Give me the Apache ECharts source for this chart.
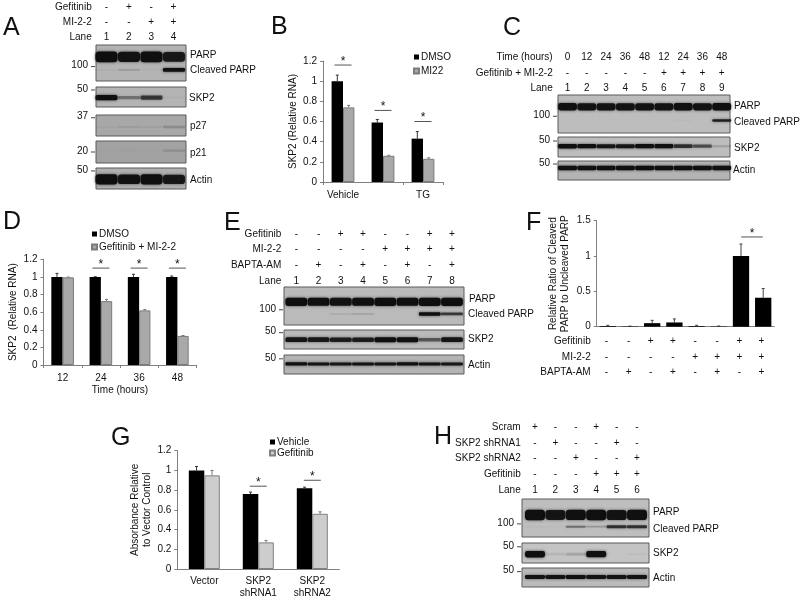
<!DOCTYPE html>
<html><head><meta charset="utf-8">
<style>html,body{margin:0;padding:0;background:#fff}#c{width:800px;height:599px;filter:blur(0.45px)}</style>
<script src="https://cdn.jsdelivr.net/npm/echarts@6/dist/echarts.min.js"></script>
</head><body><div id="c"></div>
<script>
// ---------- bar chart values ----------
const bCats=['Vehicle','Gefitinib','TG'];
const bDmso=[1,0.59,0.43], bDmsoErr=[0.06,0.03,0.07];
const bMi22=[0.74,0.26,0.23], bMi22Err=[0.02,0.005,0.01];
const bSig=[1.16,0.71,0.6];

const dCats=['12','24','36','48'];
const dDmso=[1,1,1,1], dDmsoErr=[0.04,0.002,0.03,0.01];
const dCombo=[0.995,0.725,0.62,0.33], dComboErr=[0.003,0.02,0.01,0.005];
const dSig=[null,1.1,1.1,1.1];

const fCats=['1','2','3','4','5','6','7','8'];
const fValues=[0.01,0.005,0.05,0.06,0.01,0.005,1,0.41];
const fErr=[0.01,0.003,0.04,0.05,0.01,0.005,0.17,0.13];
const fSig=[null,null,null,null,null,null,1.27,null];

const gCats=['Vector','SKP2\nshRNA1','SKP2\nshRNA2'];
const gVehicle=[1,0.76,0.82], gVehicleErr=[0.04,0.02,0.01];
const gGefitinib=[0.95,0.27,0.56], gGefitinibErr=[0.05,0.02,0.02];
const gSig=[null,0.84,0.9];

// ---------- treatment rows ----------
const aGef=['-','+','-','+'], aMi=['-','-','+','+'], aLane=['1','2','3','4'];
const cTime=['0','12','24','36','48','12','24','36','48'], cCombo=['-','-','-','-','-','+','+','+','+'], cLane=['1','2','3','4','5','6','7','8','9'];
const eGef=['-','-','+','+','-','-','+','+'], eMi=['-','-','-','-','+','+','+','+'], eBapta=['-','+','-','+','-','+','-','+'], eLane=['1','2','3','4','5','6','7','8'];
const hScram=['+','-','-','+','-','-'], hSh1=['-','+','-','-','+','-'], hSh2=['-','-','+','-','-','+'], hGef=['-','-','-','+','+','+'], hLane=['1','2','3','4','5','6'];

// ---------- western blot band intensities (0..1) ----------
const aParp=[1,0.92,1,0.88], aCleaved=[0.06,0.18,0.05,0.95], aSkp2=[1,0.4,0.7,0.04], aP27=[0.05,0.1,0.08,0.2], aP21=[0.02,0.03,0.02,0.15], aActin=[1,0.92,1,0.88];
const cParp=[0.95,0.92,0.92,0.92,0.92,0.92,0.95,0.92,0.97], cCleaved=[0,0,0,0,0,0,0.03,0,0.85], cSkp2=[1,0.95,0.9,0.9,0.95,0.95,0.75,0.6,0.2], cActin=[0.95,0.95,0.95,0.95,0.97,0.95,0.95,0.95,0.95];
const eParp=[0.97,0.95,0.92,0.95,0.97,0.95,0.97,0.97], eCleaved=[0,0,0.12,0.18,0,0,1,0.7], eSkp2=[0.9,0.88,0.85,0.85,1,0.95,0.55,0.9], eActin=[0.95,0.92,0.9,0.92,0.92,0.95,0.92,0.9];
const hParp=[1,0.9,0.95,1,0.92,0.95], hCleaved=[0.04,0.02,0.45,0.25,0.75,0.75], hSkp2=[1,0.1,0.18,0.95,0.01,0.04], hActin=[0.92,0.92,0.95,0.92,0.92,0.92];

const FF='"Liberation Sans", Arial, sans-serif', TXT='#111', AX='#808080';
const option={animation:false,grid:[],xAxis:[],yAxis:[],series:[],legend:[],graphic:[]};

function addGrid(g,x,y){
  const i=option.grid.length;
  option.grid.push(g);
  option.xAxis.push(Object.assign({gridIndex:i},x));
  option.yAxis.push(Object.assign({gridIndex:i},y));
  return i;
}
function hiddenValue(min,max,inverse){
  return {type:'value',min,max,inverse:!!inverse,show:false,axisLine:{show:false},axisTick:{show:false},axisLabel:{show:false},splitLine:{show:false}};
}
function laneScale(left,right,x1,xn,n){
  const s=(xn-x1)/(n-1);
  return {min:1-(x1-left)/s,max:n+(right-xn)/s};
}
function txt(text,x,y,align,size,fill){
  return {type:'text',style:{text,x,y,fill:fill||TXT,fontSize:size||10,fontFamily:FF,align:align||'left',verticalAlign:'middle'}};
}

// Treatment table: row names are the category axis, marks are placed by the lane scale.
function addHeader(names,rows,labelRight,y1,pitch,x1,xn){
  const n=rows[0].length,left=labelRight+3,right=xn+14;
  const sc=laneScale(left,right,x1,xn,n);
  const i=addGrid({left,width:right-left,top:y1-pitch/2,height:pitch*rows.length,show:false},
    hiddenValue(sc.min,sc.max),
    {type:'category',data:names,inverse:true,axisLine:{show:false},axisTick:{show:false},splitLine:{show:false},
     axisLabel:{margin:3,fontSize:10,fontFamily:FF,color:TXT}});
  const data=[];
  rows.forEach((r,ri)=>r.forEach((_,li)=>data.push([li+1,ri])));
  option.series.push({type:'custom',coordinateSystem:'cartesian2d',xAxisIndex:i,yAxisIndex:i,silent:true,data,encode:{x:0,y:1},
    renderItem:(p,api)=>{
      const c=api.coord([api.value(0),api.value(1)]);
      return txt(rows[api.value(1)][api.value(0)-1],c[0],c[1],'center',10);
    }});
}

// One membrane strip: bands, kDa markers and protein names.
function addBlot(box,lane,bg,bands,markers,names){
  const n=bands[0].values.length,sc=laneScale(box.left,box.right,lane.x1,lane.xn,n);
  const i=addGrid({left:box.left,width:box.right-box.left,top:box.top,height:box.bottom-box.top,show:true,
      backgroundColor:bg,borderColor:'#5a5a5a',borderWidth:1},
    hiddenValue(sc.min,sc.max),hiddenValue(0,1,true));
  const data=[];
  bands.forEach(b=>b.values.forEach((v,li)=>{ if(v>0) data.push([li+1,b.mig,b.th,v]); }));
  option.series.push({type:'custom',coordinateSystem:'cartesian2d',xAxisIndex:i,yAxisIndex:i,silent:true,data,encode:{x:0,y:1},
    renderItem:(p,api)=>{
      const v=api.value(3),c=api.coord([api.value(0),api.value(1)]),sz=api.size([1,api.value(2)]);
      const h=Math.max(1.5,sz[1]*(0.35+0.65*v)),w=sz[0]*0.98;
      return {type:'rect',shape:{x:c[0]-w/2,y:c[1]-h/2,width:w,height:h,r:h/3},
        style:{fill:'rgba(15,15,15,'+Math.min(1,Math.pow(v,1.15)*1.05)+')',shadowBlur:3,shadowColor:'rgba(15,15,15,'+(v*0.7)+')'}};
    }});
  option.series.push({type:'custom',coordinateSystem:'cartesian2d',xAxisIndex:i,yAxisIndex:i,silent:true,clip:false,
    data:markers.map((m,k)=>[sc.min,m.pos,k]),encode:{x:0,y:1},
    renderItem:(p,api)=>{
      const m=markers[api.value(2)],c=api.coord([api.value(0),api.value(1)]);
      return {type:'group',children:[
        {type:'line',shape:{x1:c[0]-5,y1:c[1],x2:c[0]-1,y2:c[1]},style:{stroke:'#444',lineWidth:1}},
        txt(m.text,c[0]-8,c[1]-1,'right',10)]};
    }});
  option.series.push({type:'custom',coordinateSystem:'cartesian2d',xAxisIndex:i,yAxisIndex:i,silent:true,clip:false,
    data:names.map((m,k)=>[sc.max,m.pos,k]),encode:{x:0,y:1},
    renderItem:(p,api)=>{
      const m=names[api.value(2)],c=api.coord([api.value(0),api.value(1)]);
      return txt(m.text,c[0]+(m.dx==null?4:m.dx),c[1],'left',10);
    }});
}

// Bar panel: axis, two (or one) bar series, upper error bars and significance brackets.
function addBars(o){
  const i=addGrid({left:o.left,width:o.width,top:o.top,height:o.height,show:false},
    Object.assign({type:'category',data:o.cats,axisLine:{lineStyle:{color:AX}},
      axisTick:{show:o.xTicks!==false,length:3,lineStyle:{color:AX}},
      axisLabel:{show:o.xLabels!==false,fontSize:10,fontFamily:FF,color:TXT,margin:o.xMargin||7,lineHeight:12},
      splitLine:{show:false}},o.xName?{name:o.xName,nameLocation:'middle',nameGap:20,nameTextStyle:{fontSize:10,fontFamily:FF,color:TXT}}:{}),
    {type:'value',min:0,max:o.max,interval:o.interval,name:o.yName,nameLocation:'middle',nameRotate:90,nameGap:o.yGap,
     nameTextStyle:{fontSize:10,fontFamily:FF,color:TXT,lineHeight:o.yLine||12},
     axisLine:{show:true,lineStyle:{color:AX}},axisTick:{show:true,length:3,lineStyle:{color:AX}},
     axisLabel:{fontSize:10,fontFamily:FF,color:TXT,margin:6},splitLine:{show:false}});
  const bw=o.barWidth,m=o.bars.length;
  o.bars.forEach((b,k)=>{
    option.series.push({type:'bar',name:b.name,xAxisIndex:i,yAxisIndex:i,data:b.values,barWidth:bw,barGap:0,silent:true,
      itemStyle:{color:b.color,borderColor:b.border,borderWidth:b.border?1:0}});
    const off=m===1?0:(k-0.5)*bw;
    option.series.push({type:'custom',coordinateSystem:'cartesian2d',xAxisIndex:i,yAxisIndex:i,silent:true,z:1,
      data:b.values.map((v,j)=>[j,v,v+b.err[j]]),encode:{x:0,y:1},
      renderItem:(p,api)=>{
        const t=api.coord([api.value(0),api.value(2)]),c=api.coord([api.value(0),api.value(1)]),x=t[0]+off;
        return {type:'group',children:[
          {type:'line',shape:{x1:x,y1:c[1],x2:x,y2:t[1]},style:{stroke:b.errColor,lineWidth:1}},
          {type:'line',shape:{x1:x-1.5,y1:t[1],x2:x+1.5,y2:t[1]},style:{stroke:b.errColor,lineWidth:1}}]};
      }});
  });
  const sd=[];
  o.sig.forEach((v,j)=>{ if(v!=null) sd.push([j,v]); });
  option.series.push({type:'custom',coordinateSystem:'cartesian2d',xAxisIndex:i,yAxisIndex:i,silent:true,clip:false,data:sd,encode:{x:0,y:1},
    renderItem:(p,api)=>{
      const c=api.coord([api.value(0),api.value(1)]),x=c[0]+(o.sigShift||0),hw=o.sigHalf||8.5;
      return {type:'group',children:[
        {type:'line',shape:{x1:x-hw,y1:c[1],x2:x+hw,y2:c[1]},style:{stroke:'#555',lineWidth:1}},
        txt('*',x,c[1]-3.5,'center',12,'#111')]};
    }});
  if(o.legend) option.legend.push({show:true,data:o.bars.map(b=>b.name),orient:'vertical',left:o.legend.left,top:o.legend.top,padding:0,
    itemWidth:5,itemHeight:5,itemGap:o.legend.gap,icon:'rect',selectedMode:false,textStyle:{fontSize:10,fontFamily:FF,color:TXT,padding:[0,0,0,-3]}});
}

// ---- A ----
addHeader(['Gefitinib','MI-2-2','Lane'],[aGef,aMi,aLane],91.7,6.3,15.4,106.5,173.5);
const laneA={x1:106.5,xn:174};
addBlot({left:96,right:186,top:45,bottom:81},laneA,'#b4b4b4',[{mig:.33,th:.3,values:aParp},{mig:.69,th:.11,values:aCleaved}],[{text:'100',pos:.6}],[{text:'PARP',pos:.28},{text:'Cleaved PARP',pos:.69}]);
addBlot({left:96,right:186,top:87,bottom:107},laneA,'#b4b4b4',[{mig:.53,th:.26,values:aSkp2}],[{text:'50',pos:.15}],[{text:'SKP2',pos:.55,dx:3}]);
addBlot({left:96,right:186,top:115,bottom:136},laneA,'#a8a8a8',[{mig:.57,th:.24,values:aP27}],[{text:'37',pos:.13}],[{text:'p27',pos:.52}]);
addBlot({left:96,right:186,top:141,bottom:163},laneA,'#a2a2a2',[{mig:.44,th:.27,values:aP21}],[{text:'20',pos:.5}],[{text:'p21',pos:.55}]);
addBlot({left:96,right:186,top:168,bottom:189},laneA,'#b0b0b0',[{mig:.54,th:.48,values:aActin}],[{text:'50',pos:.14}],[{text:'Actin',pos:.56}]);

// ---- B ----
addBars({left:323,width:120,top:61,height:121,cats:bCats,max:1.2,interval:0.2,barWidth:11.4,yName:'SKP2 (Relative RNA)',yGap:21,sig:bSig,
  bars:[{name:'DMSO',values:bDmso,err:bDmsoErr,color:'#000',errColor:'#333'},{name:'MI22',values:bMi22,err:bMi22Err,color:'#a9a9a9',border:'#7b7b7b',errColor:'#777'}],
  legend:{left:413,top:52,gap:4}});

// ---- C ----
addHeader(['Time (hours)','Gefitinib + MI-2-2','Lane'],[cTime,cCombo,cLane],552.7,57,15.8,567.5,721.7);
const laneC={x1:567.5,xn:721.7};
addBlot({left:558,right:730,top:95,bottom:133},laneC,'#bdbdbd',[{mig:.31,th:.2,values:cParp},{mig:.67,th:.07,values:cCleaved}],[{text:'100',pos:.56}],[{text:'PARP',pos:.29},{text:'Cleaved PARP',pos:.71}]);
addBlot({left:558,right:730,top:137,bottom:157},laneC,'#bdbdbd',[{mig:.46,th:.22,values:cSkp2}],[{text:'50',pos:.2}],[{text:'SKP2',pos:.55}]);
addBlot({left:558,right:730,top:161,bottom:180},laneC,'#b4b4b4',[{mig:.37,th:.24,values:cActin}],[{text:'50',pos:.16}],[{text:'Actin',pos:.47,dx:3}]);

// ---- D ----
addBars({left:43.5,width:153,top:259.3,height:105.7,cats:dCats,max:1.2,interval:0.2,barWidth:11.3,yName:'SKP2  (Relative RNA)',yGap:22,sig:dSig,xName:'Time (hours)',
  bars:[{name:'DMSO',values:dDmso,err:dDmsoErr,color:'#000',errColor:'#333'},{name:'Gefitinib + MI-2-2',values:dCombo,err:dComboErr,color:'#a9a9a9',border:'#7b7b7b',errColor:'#777'}],
  legend:{left:91,top:229,gap:3}});

// ---- E ----
addHeader(['Gefitinib','MI-2-2','BAPTA-AM','Lane'],[eGef,eMi,eBapta,eLane],281.3,234,15.6,296.3,452);
const laneE={x1:296.3,xn:452};
addBlot({left:284,right:464,top:287,bottom:325},laneE,'#bababa',[{mig:.39,th:.22,values:eParp},{mig:.71,th:.09,values:eCleaved}],[{text:'100',pos:.6}],[{text:'PARP',pos:.31,dx:5},{text:'Cleaved PARP',pos:.71}]);
addBlot({left:284,right:464,top:330,bottom:349},laneE,'#bababa',[{mig:.51,th:.27,values:eSkp2}],[{text:'50',pos:.14}],[{text:'SKP2',pos:.51}]);
addBlot({left:284,right:464,top:355,bottom:374},laneE,'#b4b4b4',[{mig:.47,th:.17,values:eActin}],[{text:'50',pos:.2}],[{text:'Actin',pos:.53}]);

// ---- F ----
addBars({left:596.7,width:177.6,top:220.7,height:106,cats:fCats,max:1.5,interval:0.5,barWidth:16.3,yName:'Relative Ratio of Cleaved\nPARP to Uncleaved PARP',yGap:25,xLabels:false,xTicks:false,sig:fSig,sigShift:11,sigHalf:10.8,
  bars:[{name:'Ratio',values:fValues,err:fErr,color:'#000',errColor:'#444'}]});
addHeader(['Gefitinib','MI-2-2','BAPTA-AM'],[eGef,eMi,eBapta],590.7,341,15.8,606.5,761.5);

// ---- G ----
addBars({left:177.3,width:162,top:450.7,height:120.3,cats:gCats,max:1.2,interval:0.2,barWidth:15.5,yName:'Absorbance Relative\nto Vector Control',yGap:22,xTicks:false,xMargin:6,sig:gSig,
  bars:[{name:'Vehicle',values:gVehicle,err:gVehicleErr,color:'#000',errColor:'#333'},{name:'Gefitinib',values:gGefitinib,err:gGefitinibErr,color:'#cdcdcd',border:'#808080',errColor:'#777'}],
  legend:{left:269,top:437,gap:1}});

// ---- H ----
addHeader(['Scram','SKP2 shRNA1','SKP2 shRNA2','Gefitinib','Lane'],[hScram,hSh1,hSh2,hGef,hLane],520.7,427,15.8,535,637);
const laneH={x1:535,xn:637};
addBlot({left:522,right:649,top:499,bottom:537},laneH,'#bebebe',[{mig:.42,th:.28,values:hParp},{mig:.73,th:.09,values:hCleaved}],[{text:'100',pos:.655}],[{text:'PARP',pos:.34},{text:'Cleaved PARP',pos:.79}]);
addBlot({left:522,right:649,top:543,bottom:563},laneH,'#c4c4c4',[{mig:.56,th:.32,values:hSkp2}],[{text:'50',pos:.19}],[{text:'SKP2',pos:.49}]);
addBlot({left:522,right:649,top:568,bottom:587},laneH,'#bababa',[{mig:.47,th:.22,values:hActin}],[{text:'50',pos:.19}],[{text:'Actin',pos:.53}]);

// panel letters
[['A',3,30],['B',271,29],['C',503,30],['D',3,224],['E',224,225],['F',526,225],['G',111,440],['H',434,439]].forEach(l=>{
  option.graphic.push({type:'text',left:l[1],top:l[2]-14,style:{text:l[0],fontSize:25,fontFamily:FF,fill:'#111'}});
});

const chart=echarts.init(document.getElementById('c'),null,{renderer:'canvas'});
chart.setOption(option);
</script></body></html>
